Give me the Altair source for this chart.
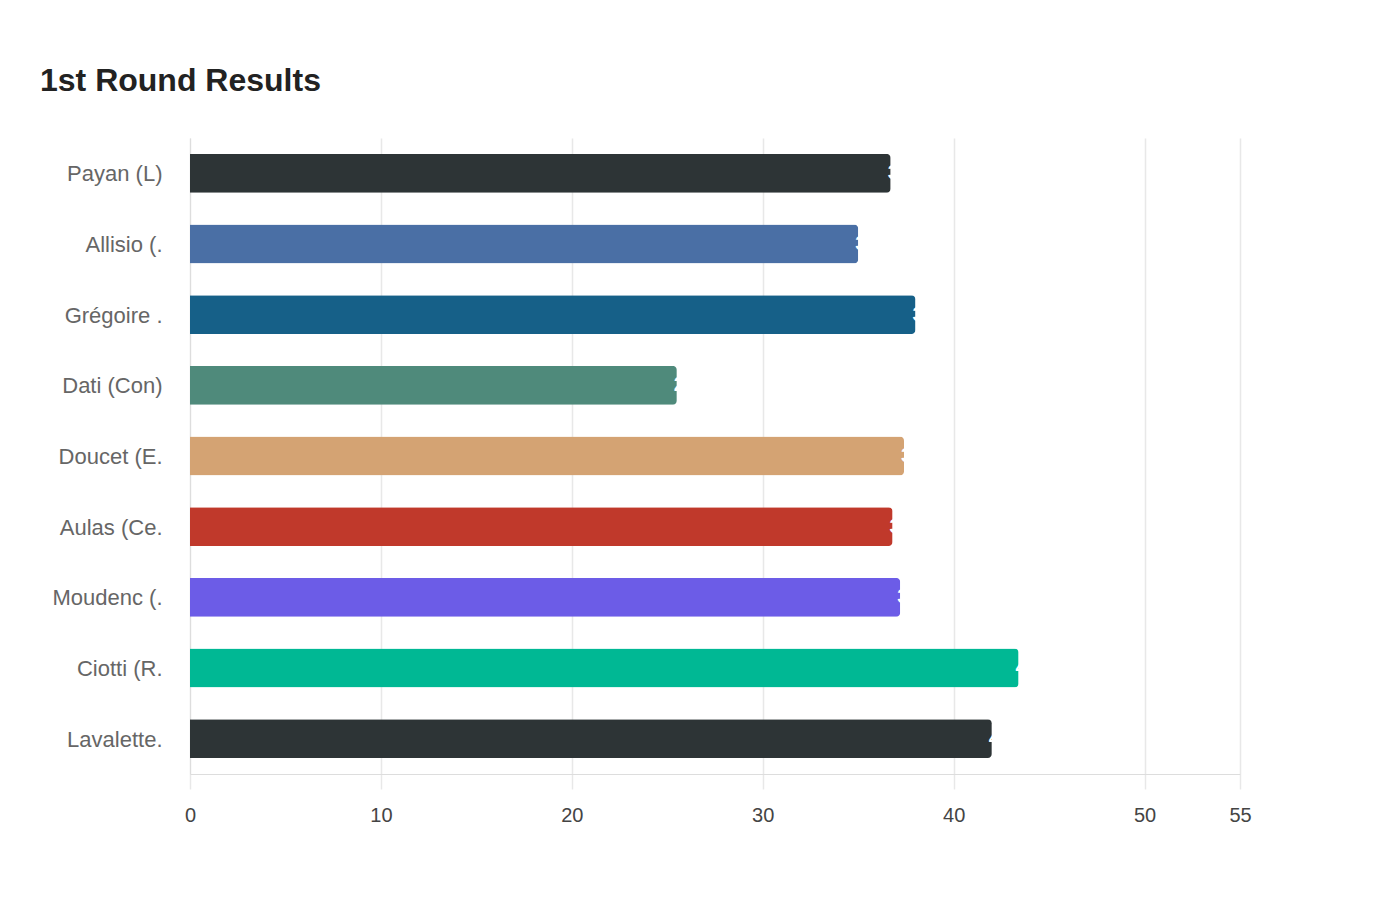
import altair as alt
import pandas as pd

candidates = ["Payan (L)", "Allisio (.", "Grégoire .", "Dati (Con)", "Doucet (E.",
              "Aulas (Ce.", "Moudenc (.", "Ciotti (R.", "Lavalette."]
values = [36.7, 35.0, 38.0, 25.5, 37.4, 36.8, 37.2, 43.4, 42.0]
colors = ["#2d3436", "#4a6fa5", "#166088", "#4f8a7b", "#d4a373",
          "#c0392b", "#6c5ce7", "#00b894", "#2d3436"]
x_ticks = [0, 10, 20, 30, 40, 50, 55]

df = pd.DataFrame({"name": candidates, "value": values, "color": colors,
                   "label": [f"{v:.1f}" for v in values]})

y = alt.Y("name:N", sort=None, title=None,
          scale=alt.Scale(paddingInner=0.45, paddingOuter=0.225),
          axis=alt.Axis(ticks=False, labelPadding=28, labelFontSize=22,
                        labelColor="#666666", labelFont="Liberation Sans",
                        domainColor="#dddddd", grid=False, labelLimit=300,
                        labelOffset=1))
x = alt.X("value:Q", title=None,
          scale=alt.Scale(domain=[0, 55], nice=False),
          axis=alt.Axis(values=x_ticks, labelFontSize=20, labelColor="#444444",
                        labelFont="Liberation Sans", tickColor="#e8e8e8",
                        tickSize=15, labelPadding=16, gridColor="#e8e8e8",
                        gridWidth=1.5, tickWidth=1.5, labelFlush=False,
                        labelBound=False, domainColor="#dddddd"))

bars = alt.Chart(df).mark_bar(cornerRadiusEnd=4).encode(
    x=x, y=y, color=alt.Color("color:N", scale=None))

text = alt.Chart(df).mark_text(align="left", dx=-3, color="white", fontSize=20,
                               fontWeight="bold", font="Liberation Sans").encode(
    x="value:Q", y=alt.Y("name:N", sort=None), text="label:N")

chart = (bars + text).properties(
    width=1050, height=636,
    autosize=alt.AutoSizeParams(type="none"),
    padding={"left": 182, "top": 130, "right": 120, "bottom": 100},
    title=alt.TitleParams("1st Round Results", anchor="start", frame="group",
                          dx=-150, offset=40, fontSize=32, fontWeight="bold",
                          color="#222222", font="Liberation Sans"),
).configure_view(stroke=None)

chart.save("out.html", embed_options={"renderer": "svg", "actions": False})
